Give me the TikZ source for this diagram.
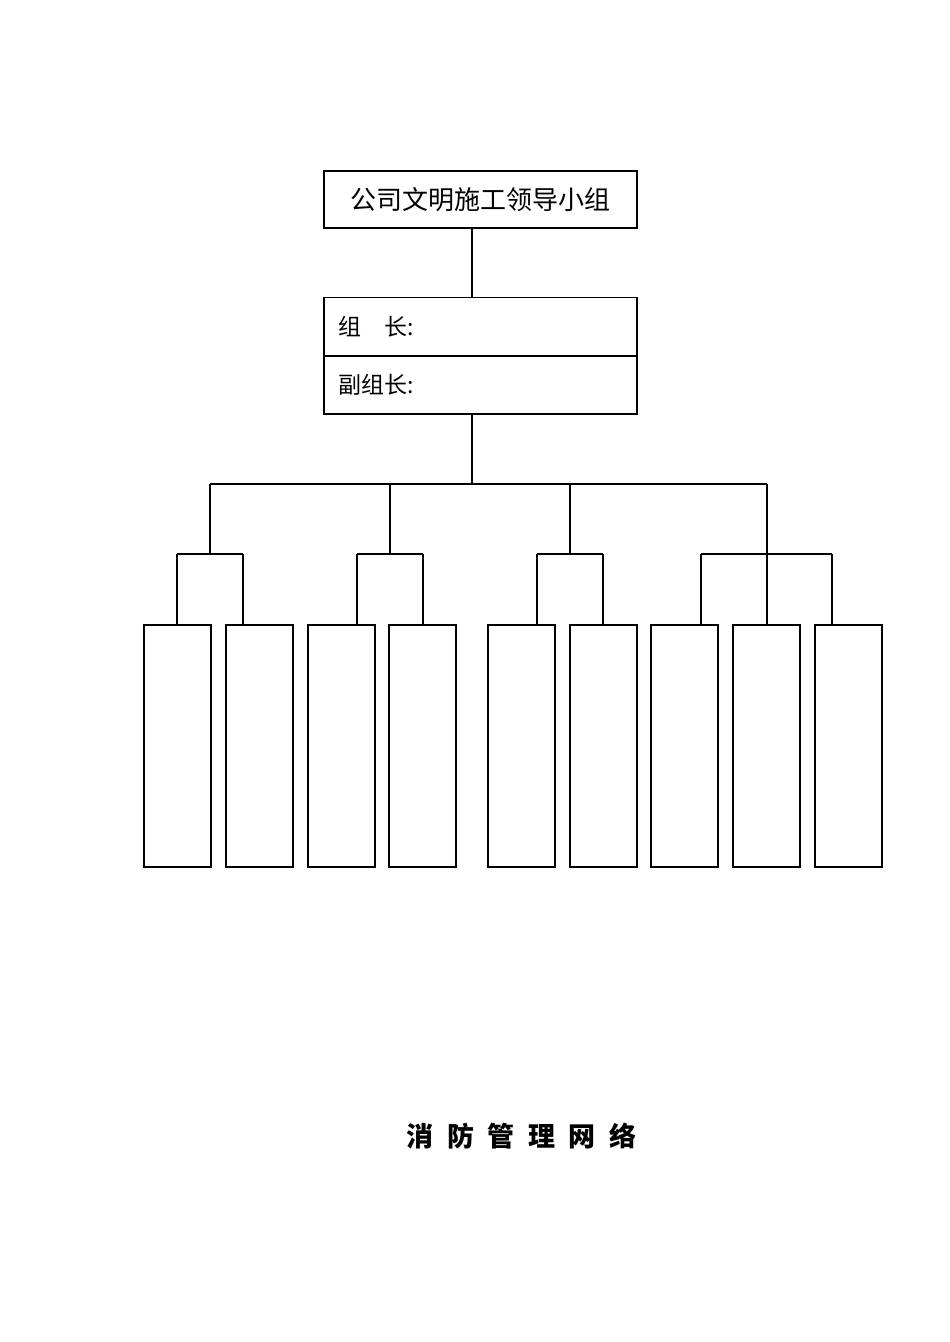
\documentclass[tikz,border=0pt]{standalone}
\usepackage{fontspec}
\newfontfamily\cjk{Noto Sans CJK SC}
\newfontfamily\titlefont[WordSpace=2.2]{Noto Sans CJK SC}
\usetikzlibrary{positioning}

\begin{document}
\begin{tikzpicture}[x=1pt,y=-1pt]
        \tikzstyle{box} = [rectangle, draw, line width=1.2pt, inner sep=0pt]
        \tikzstyle{post} = [box, minimum width=313pt, minimum height=57.5pt, text width=285pt, inner xsep=14pt, align=left, font=\cjk\fontsize{23}{28}\selectfont]
        \tikzstyle{unit} = [box, minimum width=67pt, minimum height=242pt]
        \tikzstyle{link} = [line width=1.2pt]
        \useasboundingbox (0,0) rectangle (950,1342);
        \node (lead) [box, minimum width=313pt, minimum height=57pt, font=\cjk\fontsize{26}{30}\selectfont] at (480.5,199.5) {公司文明施工领导小组};
        \node (chief) [post] at (480.5,326.5) {组\quad 长:};
        \node (deputy) [post, below=0pt of chief] {副组长:};
        \foreach \x [count=\i] in {177.5, 259.5, 341.5, 422.5, 521.5, 603.5, 684.5, 766.5, 848.5}
            \node (unit\i) [unit] at (\x,746) {};
        \coordinate (trunk) at (472,484);
        \draw[link] (lead.south -| trunk) -- (chief.north -| trunk);
        \draw[link] (deputy.south -| trunk) -- (trunk);
        \draw[link] (210,484) -- (767,484);
        \foreach \a/\b/\c in {210/177/243, 390/357/423, 570/537/603, 767/701/832} {
            \draw[link] (\a,484) -- (\a,554);
            \draw[link] (\b,554) -- (\c,554);
        }
        \foreach \x/\u in {177/1, 243/2, 357/3, 423/4, 537/5, 603/6, 701/7, 767/8, 832/9}
            \draw[link] (\x,554) -- (unit\u.north -| \x,0);
        \node (title) [font=\titlefont\bfseries\fontsize{27}{30}\selectfont] at (521.5,1136) {消 防 管 理 网 络};
\end{tikzpicture}
\end{document}
